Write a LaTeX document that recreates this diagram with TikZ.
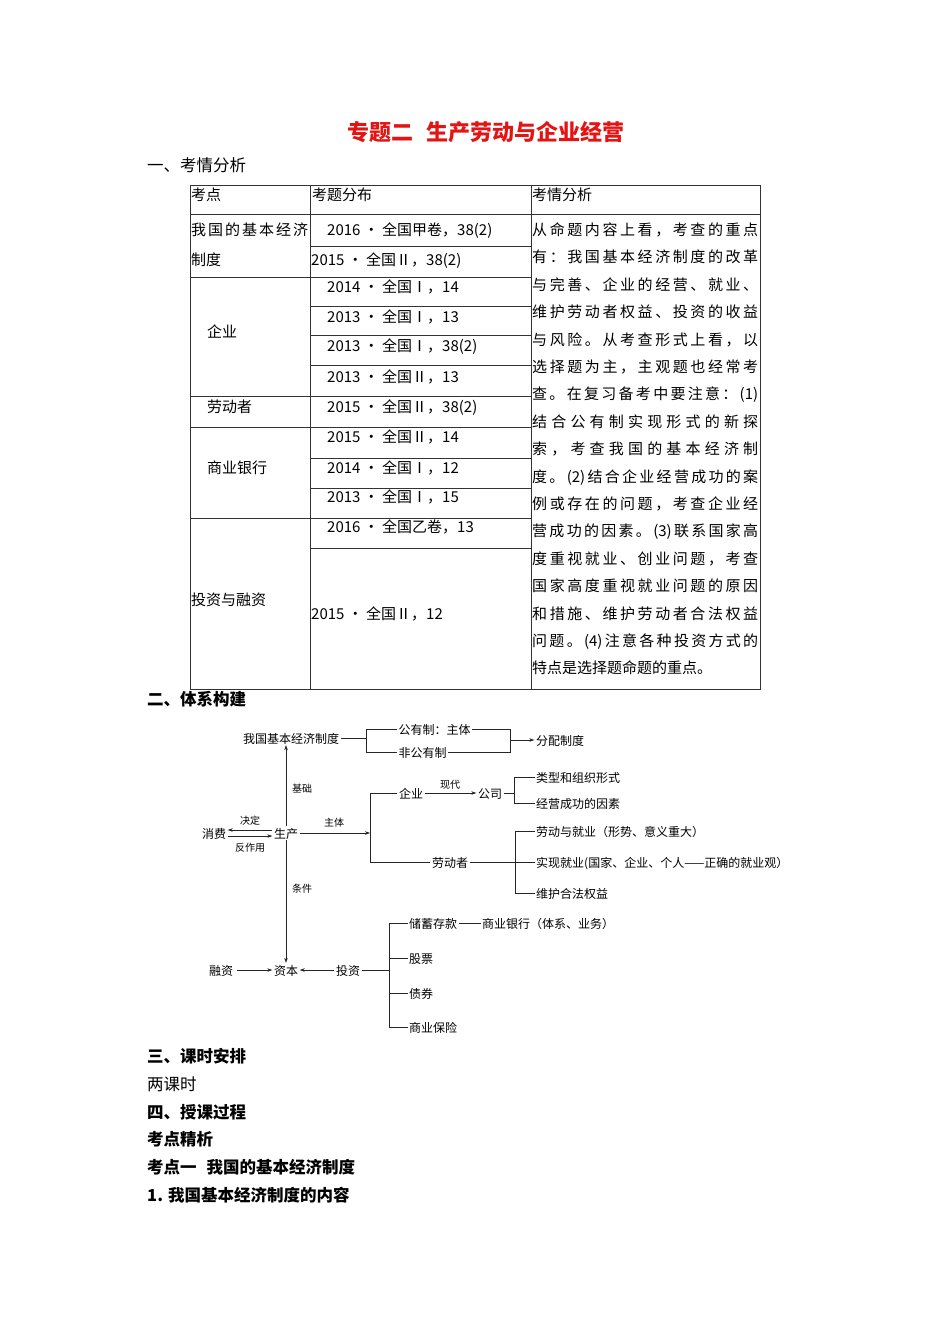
\documentclass[tikz,border=0pt]{standalone}
\usepackage{fontspec}
\setmainfont{Noto Sans CJK SC}
\usetikzlibrary{arrows.meta}
\definecolor{ttl}{RGB}{228,20,20}
\def\jlx#1{\ifx\relax#1\unskip\else#1\hfil\expandafter\jlx\fi}
\newcommand\jline[2]{\hbox to #1{\jlx#2\relax}}
\begin{document}
\begin{tikzpicture}[x=1pt,y=-1pt,
  every node/.style={inner sep=0pt, text height=1.1em, text depth=0em},
  tb/.style={anchor=west, font=\fontsize{15}{15}\selectfont},
  hd/.style={anchor=west, font=\fontsize{16.5}{16.5}\selectfont},
  hb/.style={anchor=west, font=\fontsize{16.5}{16.5}\selectfont\bfseries},
  dg/.style={font=\fontsize{12}{12}\selectfont, inner sep=1.5pt},
  lb/.style={font=\fontsize{10}{10}\selectfont},
  tl/.style={line width=0.7pt, black!80},
  ln/.style={line width=0.6pt, black!85},
  arr/.style={ln, -{Stealth[length=5pt,width=3.5pt]}}]
\useasboundingbox (0,0) rectangle (950,1344);
\fill[white] (0,0) rectangle (950,1344);

% title and first heading
\node[anchor=west, text=ttl, font=\fontsize{22}{22}\selectfont\bfseries] (title) at (347,135) {专题二\hspace{0.6em}生产劳动与企业经营};
\node[hd] (h1) at (147,166) {一、考情分析};

% table lines
\draw[tl] (190,185) rectangle (760,689);
\draw[tl] (310,185) -- (310,689);
\draw[tl] (531,185) -- (531,689);
\draw[tl] (190,214) -- (760,214);
\foreach \y in {277,396,427,518} \draw[tl] (190,\y) -- (531,\y);
\foreach \y in {246,306,335,365,458,488,548} \draw[tl] (310,\y) -- (531,\y);

% table header
\node[tb] (c1h) at (191,195) {考点};
\node[tb] (c2h) at (312,195) {考题分布};
\node[tb] (c3h) at (532,195) {考情分析};

% column 1
\node[tb] (k1a) at (191,230) {\jline{117pt}{我国的基本经济}};
\node[tb] (k1b) at (191,260) {制度};
\node[tb] (k2) at (207,332) {企业};
\node[tb] (k3) at (207,407) {劳动者};
\node[tb] (k4) at (207,468) {商业银行};
\node[tb] (k5) at (191,600) {投资与融资};

% column 2
\node[tb] (t1) at (327,230) {2016 • 全国甲卷，38(2)};
\node[tb] (t2) at (311,260) {2015 • 全国Ⅱ，38(2)};
\node[tb] (t3) at (327,287) {2014 • 全国Ⅰ，14};
\node[tb] (t4) at (327,317) {2013 • 全国Ⅰ，13};
\node[tb] (t5) at (327,346) {2013 • 全国Ⅰ，38(2)};
\node[tb] (t6) at (327,377) {2013 • 全国Ⅱ，13};
\node[tb] (t7) at (327,407) {2015 • 全国Ⅱ，38(2)};
\node[tb] (t8) at (327,437) {2015 • 全国Ⅱ，14};
\node[tb] (t9) at (327,468) {2014 • 全国Ⅰ，12};
\node[tb] (t10) at (327,497) {2013 • 全国Ⅰ，15};
\node[tb] (t11) at (327,527) {2016 • 全国乙卷，13};
\node[tb] (t12) at (311,614) {2015 • 全国Ⅱ，12};

% column 3
\node[tb] (a1) at (532,230.0) {\jline{226pt}{从命题内容上看，考查的重点}};
\node[tb] (a2) at (532,257.4) {\jline{226pt}{有：我国基本经济制度的改革}};
\node[tb] (a3) at (532,284.8) {\jline{226pt}{与完善、企业的经营、就业、}};
\node[tb] (a4) at (532,312.2) {\jline{226pt}{维护劳动者权益、投资的收益}};
\node[tb] (a5) at (532,339.6) {\jline{226pt}{与风险。从考查形式上看，以}};
\node[tb] (a6) at (532,367.0) {\jline{226pt}{选择题为主，主观题也经常考}};
\node[tb] (a7) at (532,394.4) {\jline{226pt}{查。在复习备考中要注意：{(1)}}};
\node[tb] (a8) at (532,421.8) {\jline{226pt}{结合公有制实现形式的新探}};
\node[tb] (a9) at (532,449.2) {\jline{226pt}{索，考查我国的基本经济制}};
\node[tb] (a10) at (532,476.6) {\jline{226pt}{度。{(2)}结合企业经营成功的案}};
\node[tb] (a11) at (532,504.0) {\jline{226pt}{例或存在的问题，考查企业经}};
\node[tb] (a12) at (532,531.4) {\jline{226pt}{营成功的因素。{(3)}联系国家高}};
\node[tb] (a13) at (532,558.8) {\jline{226pt}{度重视就业、创业问题，考查}};
\node[tb] (a14) at (532,586.2) {\jline{226pt}{国家高度重视就业问题的原因}};
\node[tb] (a15) at (532,613.6) {\jline{226pt}{和措施、维护劳动者合法权益}};
\node[tb] (a16) at (532,641.0) {\jline{226pt}{问题。{(4)}注意各种投资方式的}};
\node[tb] (a17) at (532,668.4) {特点是选择题命题的重点。};

% second heading
\node[hb] (h2) at (147,700) {二、体系构建};

% diagram
\node[dg] (sys) at (291,738) {我国基本经济制度};
\node[dg] (gy) at (434.5,729) {公有制：主体};
\node[dg] (fgy) at (422.5,752) {非公有制};
\node[dg] (fp) at (560,740) {分配制度};
\coordinate (b1t) at (366,729);
\coordinate (b1b) at (366,752);
\coordinate (b2t) at (510,729);
\coordinate (b2b) at (510,752);
\draw[ln] (sys.east) -- (sys.east -| b1t);
\draw[ln] (gy.west) -- (b1t) -- (b1b) -- (fgy.west);
\draw[ln] (gy.east) -- (b2t) -- (b2b) -- (fgy.east);
\draw[arr] (b2t |- fp.west) -- (fp.west);

\node[dg] (sc) at (286,833) {生产};
\draw[arr] (sc.north) -- (sc.north |- sys.south);
\node[lb] (l1) at (302,787) {基础};
\node[dg] (xf) at (214,833) {消费};
\draw[arr] ([yshift=3pt]sc.west) -- ([yshift=3pt]xf.east);
\draw[arr] ([yshift=-3pt]xf.east) -- ([yshift=-3pt]sc.west);
\node[lb] (l2) at (250,819) {决定};
\node[lb] (l3) at (250,846) {反作用};

\coordinate (b3m) at (370,833);
\coordinate (b3t) at (370,793);
\coordinate (b3b) at (370,862);
\draw[arr] (sc.east) -- (b3m);
\node[lb] (l4) at (334,821) {主体};
\node[dg] (qy) at (411,793) {企业};
\node[dg] (ldz) at (450,862) {劳动者};
\draw[ln] (qy.west) -- (b3t) -- (b3b) -- (ldz.west);

\node[dg] (gs) at (490,793) {公司};
\draw[arr] (qy.east) -- (gs.west);
\node[lb] (l5) at (450,783) {现代};
\coordinate (b4t) at (514,777);
\coordinate (b4b) at (514,803);
\node[dg, anchor=west] (lx) at (534.5,777) {类型和组织形式};
\node[dg, anchor=west] (jy) at (534.5,803) {经营成功的因素};
\draw[ln] (gs.east) -- (gs.east -| b4t);
\draw[ln] (lx.west) -- (b4t) -- (b4b) -- (jy.west);

\coordinate (b5t) at (515,831);
\coordinate (b5b) at (515,893);
\node[dg, anchor=west] (ld1) at (534.5,831) {劳动与就业（形势、意义重大）};
\node[dg, anchor=west] (ld2) at (534.5,862) {实现就业(国家、企业、个人——正确的就业观）};
\node[dg, anchor=west] (ld3) at (534.5,893) {维护合法权益};
\draw[ln] (ldz.east) -- (ld2.west);
\draw[ln] (ld1.west) -- (b5t) -- (b5b) -- (ld3.west);

\node[dg] (zb) at (286,970) {资本};
\draw[arr] (sc.south) -- (zb.north);
\node[lb] (l6) at (302,887) {条件};
\node[dg] (rz) at (221,970) {融资};
\draw[arr, shorten <=2pt] (rz.east) -- (zb.west);
\node[dg] (tz) at (348,970) {投资};
\draw[arr] (tz.west) -- (zb.east);
\coordinate (b6m) at (389,970);
\coordinate (b6t) at (389,923);
\coordinate (b6b) at (389,1027);
\draw[ln] (tz.east) -- (b6m);
\node[dg, anchor=west] (cx) at (407.5,923) {储蓄存款};
\node[dg, anchor=west] (sy) at (480.5,923) {商业银行（体系、业务）};
\node[dg, anchor=west] (gp) at (407.5,958) {股票};
\node[dg, anchor=west] (zq) at (407.5,993) {债券};
\node[dg, anchor=west] (bx) at (407.5,1027) {商业保险};
\draw[ln] (cx.west) -- (b6t) -- (b6b) -- (bx.west);
\draw[ln] (gp.west) -- (gp.west -| b6t);
\draw[ln] (zq.west) -- (zq.west -| b6t);
\draw[ln] (cx.east) -- (sy.west);

% bottom text
\node[hb] (h3) at (147,1057) {三、课时安排};
\node[hd] (p1) at (147,1085) {两课时};
\node[hb] (h4) at (147,1113) {四、授课过程};
\node[hb] (h5) at (147,1140) {考点精析};
\node[hb] (h6) at (147,1168) {考点一\hspace{0.6em}我国的基本经济制度};
\node[hb] (h7) at (147,1196) {1. 我国基本经济制度的内容};
\end{tikzpicture}
\end{document}
